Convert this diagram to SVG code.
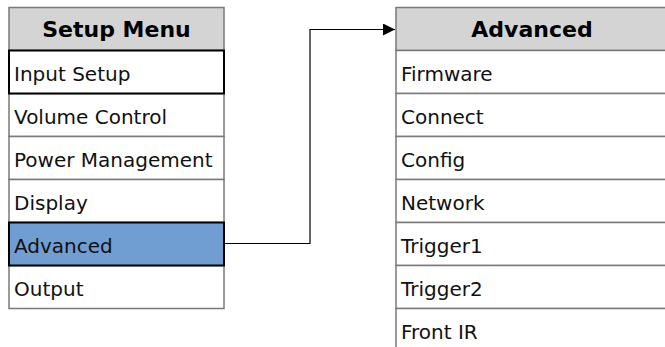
<svg xmlns="http://www.w3.org/2000/svg" width="665" height="347" viewBox="0 0 665 347">
<defs>
<style>
.hdr{fill:#d4d4d4;stroke:#7a7a7a;stroke-width:1.5}
.row{fill:#ffffff;stroke:#7a7a7a;stroke-width:1.5}
.sel{fill:#ffffff;stroke:#000000;stroke-width:2}
.hl{fill:#709dd2;stroke:#000000;stroke-width:2}
.ht{font-family:"DejaVu Sans",sans-serif;font-weight:bold;font-size:22px;fill:#000;text-anchor:middle}
.t{font-family:"DejaVu Sans",sans-serif;font-size:20px;fill:#111}
.conn{fill:none;stroke:#000;stroke-width:1.2}
</style>
<marker id="arr" markerWidth="12" markerHeight="12" refX="12" refY="6" orient="auto" markerUnits="userSpaceOnUse">
<path d="M0,0 L12,6 L0,12 Z" fill="#000"/>
</marker>
</defs>
<rect width="665" height="347" fill="#fff"/>
<g id="setup-menu">
<rect class="hdr" x="9" y="7.5" width="215" height="43"/>
<text class="ht" x="116.5" y="37">Setup Menu</text>
<rect class="row" x="9" y="93.5" width="215" height="43"/>
<text class="t" x="14" y="123.5">Volume Control</text>
<rect class="row" x="9" y="136.5" width="215" height="43"/>
<text class="t" x="14" y="166.5">Power Management</text>
<rect class="row" x="9" y="179.5" width="215" height="43"/>
<text class="t" x="14" y="209.5">Display</text>
<rect class="row" x="9" y="265.5" width="215" height="43"/>
<text class="t" x="14" y="295.5">Output</text>
<rect class="sel" x="9" y="50.5" width="215" height="43"/>
<text class="t" x="14" y="80.5">Input Setup</text>
<rect class="hl" x="9" y="222.5" width="215" height="43"/>
<text class="t" x="14" y="252.5">Advanced</text>
</g>
<g id="connectors">
<polyline class="conn" points="224,243.5 310,243.5 310,29.5 395,29.5" marker-end="url(#arr)"/>
</g>
<g id="advanced-menu">
<rect class="hdr" x="396" y="7.5" width="272" height="43"/>
<text class="ht" x="532" y="37">Advanced</text>
<rect class="row" x="396" y="50.5" width="272" height="43"/>
<text class="t" x="401" y="80.5">Firmware</text>
<rect class="row" x="396" y="93.5" width="272" height="43"/>
<text class="t" x="401" y="123.5">Connect</text>
<rect class="row" x="396" y="136.5" width="272" height="43"/>
<text class="t" x="401" y="166.5">Config</text>
<rect class="row" x="396" y="179.5" width="272" height="43"/>
<text class="t" x="401" y="209.5">Network</text>
<rect class="row" x="396" y="222.5" width="272" height="43"/>
<text class="t" x="401" y="252.5">Trigger1</text>
<rect class="row" x="396" y="265.5" width="272" height="43"/>
<text class="t" x="401" y="295.5">Trigger2</text>
<rect class="row" x="396" y="308.5" width="272" height="43"/>
<text class="t" x="401" y="338.5">Front IR</text>
</g>
</svg>
